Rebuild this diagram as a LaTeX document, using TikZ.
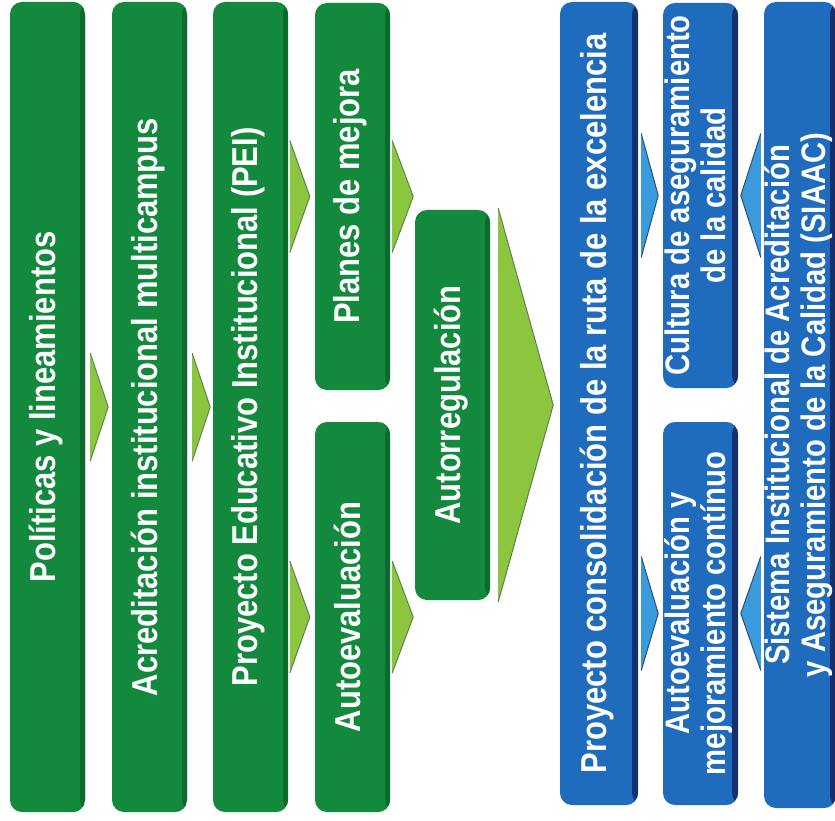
\documentclass[tikz,border=0pt]{standalone}
\usepackage{fontspec}
\setmainfont{Liberation Sans}[FakeStretch=0.86]
\usepackage{graphicx}

\definecolor{boxgreen}{HTML}{13893D}
\definecolor{edgegreen}{HTML}{0B6A2C}
\definecolor{chevgreen}{HTML}{8CC63E}
\definecolor{chevgedge}{HTML}{5F7F55}
\definecolor{boxblue}{HTML}{1F6CBE}
\definecolor{edgeblue}{HTML}{16306E}
\definecolor{chevblue}{HTML}{3A9BDC}
\definecolor{chevbedge}{HTML}{2A4E7A}

\newcommand{\vtext}[1]{\rotatebox{90}{\begin{tabular}{@{}c@{}}#1\end{tabular}}}

\tikzset{
	box/.style={rounded corners=12pt, minimum width=75pt, inner sep=0pt, text=white,
		font=\bfseries\fontsize{36}{37}\selectfont},
	twoline/.style={font=\bfseries\fontsize{34}{36}\selectfont},
	greenbox/.style={box, fill=boxgreen,
		path picture={\fill[edgegreen] ([xshift=-5pt]path picture bounding box.north east) rectangle (path picture bounding box.south east);}},
	bluebox/.style={box, fill=boxblue,
		path picture={\fill[edgeblue] ([xshift=-6pt]path picture bounding box.north east) rectangle (path picture bounding box.south east);}},
	chevG/.style={draw=chevgedge, fill=chevgreen, line width=1pt},
	chevB/.style={draw=chevbedge, fill=chevblue, line width=1pt}
}

\begin{document}
\begin{tikzpicture}[x=1pt, y=-1pt]
	\useasboundingbox[fill=white] (0,0) rectangle (835,821);
	
	%green columns
	\node[greenbox, minimum height=810pt] (pol) at (47.5, 407){\vtext{Políticas y lineamientos}};
	\node[greenbox, minimum height=810pt] (acr) at (149.5, 407){\vtext{Acreditación institucional multicampus}};
	\node[greenbox, minimum height=810pt] (pei) at (250.5, 407){\vtext{Proyecto Educativo Institucional (PEI)}};
	\node[greenbox, minimum height=387pt] (plan) at (352.5, 196.5){\vtext{Planes de mejora}};
	\node[greenbox, minimum height=390pt] (auto) at (352.5, 617){\vtext{Autoevaluación}};
	\node[greenbox, minimum height=390pt] (reg) at (452.5, 405){\vtext{Autorregulación}};
	
	%blue columns
	\node[bluebox, minimum width=78pt, minimum height=803pt] (cons) at (599, 403.5){\vtext{Proyecto consolidación de la ruta de la excelencia}};
	\node[bluebox, twoline, minimum height=385pt] (cult) at (700.5, 195.5){\vtext{Cultura de aseguramiento\\de la calidad}};
	\node[bluebox, twoline, minimum height=383pt] (mej) at (700.5, 613.5){\vtext{Autoevaluación y\\mejoramiento contínuo}};
	\node[bluebox, twoline, minimum width=70pt, minimum height=806pt] (sis) at (800, 405){\vtext{Sistema Institucional de Acreditación\\y Aseguramiento de la Calidad (SIAAC)}};
	
	%green chevrons
	\foreach \a in {pol, acr}{
		\draw[chevG] ([xshift=5pt]\a.east) ++(0,-54) -- ++(18,54) -- ++(-18,54);
	}
	\foreach \a in {plan, auto}{
		\draw[chevG] ([xshift=-25pt]\a.west) ++(0,-56) -- ++(20,56) -- ++(-20,56);
		\draw[chevG] ([xshift=2pt]\a.east) ++(0,-56) -- ++(21,56) -- ++(-21,56);
	}
	\draw[chevG] ([xshift=8pt]reg.east) ++(0,-197) -- ++(55,197) -- ++(-55,197);
	
	%blue chevrons
	\foreach \a/\h in {cult/62, mej/57}{
		\draw[chevB] ([xshift=3pt]cons.east |- \a.center) ++(0,-\h) -- ++(17,\h) -- ++(-17,\h);
		\draw[chevB] ([xshift=-3pt]sis.west |- \a.center) ++(0,-\h) -- ++(-20,\h) -- ++(20,\h);
	}
\end{tikzpicture}
\end{document}
